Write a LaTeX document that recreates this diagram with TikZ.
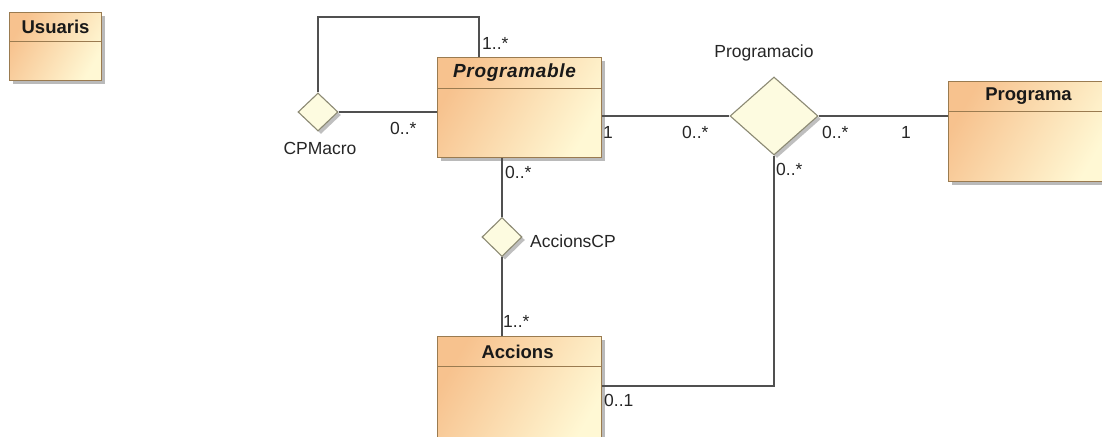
\documentclass[tikz,border=0pt]{standalone}
\usepackage{fontspec}
\setmainfont{Liberation Sans}
\usetikzlibrary{shapes.geometric,shadows,calc}
\definecolor{clsA}{HTML}{F7C28E}
\definecolor{clsB}{HTML}{FFF8D4}
\definecolor{clsLine}{HTML}{9A7B50}
\definecolor{dmFill}{HTML}{FDFBE0}
\definecolor{dmLine}{HTML}{8C8A74}
\definecolor{wire}{HTML}{505050}
\tikzset{
  classbox/.style={rectangle, draw=clsLine, line width=1.1pt, inner sep=0pt, anchor=north west,
    top color=clsA, bottom color=clsB, shading angle=60,
    drop shadow={shadow xshift=3.5pt, shadow yshift=-3.5pt, fill=black!45, opacity=.6}},
  classtitle/.style={font=\fontsize{18.5}{21}\selectfont\bfseries, inner sep=0pt, text=black!90},
  sepline/.style={draw=clsLine, line width=1pt},
  assoc/.style={diamond, draw=dmLine, fill=dmFill, line width=1.1pt, inner sep=0pt,
    drop shadow={shadow xshift=3pt, shadow yshift=-3pt, fill=black!45, opacity=.55}},
  wire/.style={draw=wire, line width=1.2pt},
  mult/.style={font=\fontsize{17.5}{20}\selectfont, inner sep=0pt, text=black!85},
}
\begin{document}
\begin{tikzpicture}[x=1pt, y=-1pt]
\clip (0,0) rectangle (1102,436);
\fill[white] (0,0) rectangle (1102,436);

% classes
\node[classbox, minimum width=92pt, minimum height=68pt] (usu) at (9,12) {};
\node[classbox, minimum width=164pt, minimum height=100pt] (prog) at (437,57) {};
\node[classbox, minimum width=160pt, minimum height=100pt] (pga) at (948,81) {};
\node[classbox, minimum width=164pt, minimum height=112pt] (acc) at (437,336) {};

\node[classtitle] (usuT) at ($(usu.north)+(0,15)$) {Usuaris};
\node[classtitle, font=\fontsize{19}{22}\selectfont\bfseries\itshape\addfontfeature{LetterSpace=3.5}] (progT) at ($(prog.north)+(-5,16)$) {Programable};
\node[classtitle] (pgaT) at ($(pga.north)+(0,15)$) {Programa};
\node[classtitle] (accT) at ($(acc.north)+(-2,16)$) {Accions};

\draw[sepline] ($(usu.north west)+(0,30)$) -- ($(usu.north east)+(0,30)$);
\draw[sepline] ($(prog.north west)+(0,31)$) -- ($(prog.north east)+(0,31)$);
\draw[sepline] ($(pga.north west)+(0,30)$) -- ($(pga.north east)+(0,30)$);
\draw[sepline] ($(acc.north west)+(0,30)$) -- ($(acc.north east)+(0,30)$);

% association diamonds
\node[assoc, minimum width=40pt, minimum height=38pt] (cp) at (318,112) {};
\node[assoc, minimum width=40pt, minimum height=39pt] (ac) at (502,237) {};
\node[assoc, minimum width=88pt, minimum height=78pt] (pm) at (774,116) {};

% connectors
\coordinate (loopc) at (479,17);
\coordinate (accR) at ($(acc.north east)+(0,50)$);
\draw[wire] (cp.east) -- (prog.west |- cp.east);
\draw[wire] (cp.north) |- (loopc) -- (loopc |- prog.north);
\draw[wire] (prog.south -| ac.north) -- (ac.north);
\draw[wire] (ac.south) -- (ac.south |- acc.north);
\draw[wire] (prog.east |- pm.west) -- (pm.west);
\draw[wire] (pm.east) -- (pga.west |- pm.east);
\draw[wire] (accR) -| (pm.south);

% association names
\node[mult] (cpL) at (320,148) {CPMacro};
\node[mult] (acL) at (573,241) {AccionsCP};
\node[mult] (pmL) at (764,53) {Programacio};

% multiplicities
\node[mult, anchor=west] (m1) at (482,43) {1..*};
\node[mult, anchor=west] (m2) at (390,128) {0..*};
\node[mult, anchor=west] (m3) at (603,132) {1};
\node[mult, anchor=west] (m4) at (505,172) {0..*};
\node[mult, anchor=west] (m5) at (682,132) {0..*};
\node[mult, anchor=west] (m6) at (822,132) {0..*};
\node[mult, anchor=west] (m7) at (901,132) {1};
\node[mult, anchor=west] (m8) at (776,169) {0..*};
\node[mult, anchor=west] (m9) at (503,321) {1..*};
\node[mult, anchor=west] (m10) at (604,400) {0..1};
\end{tikzpicture}
\end{document}
